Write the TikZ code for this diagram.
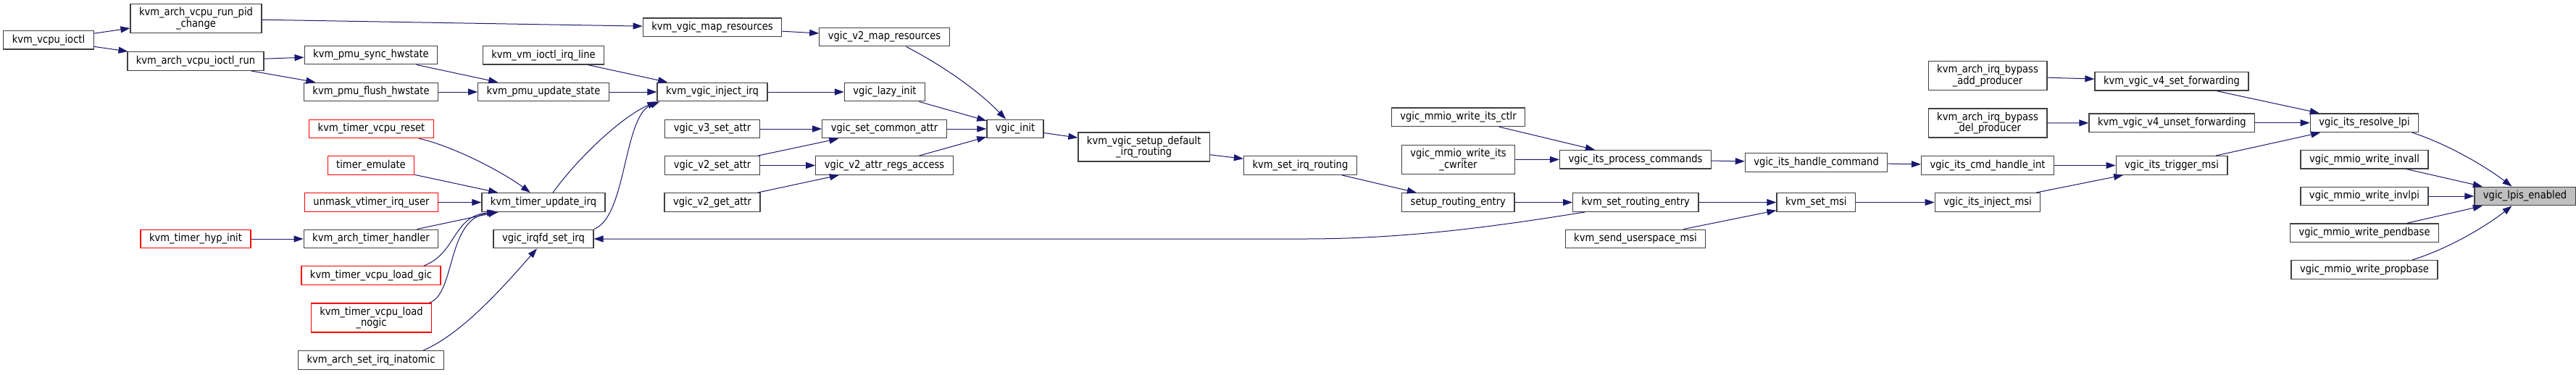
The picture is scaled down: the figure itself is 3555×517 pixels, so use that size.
\documentclass[tikz,border=0pt]{standalone}
\usepackage{fontspec}
\setmainfont{DejaVu Sans}[FakeStretch=0.88]
\usetikzlibrary{arrows.meta}
\definecolor{edgeblue}{RGB}{25,25,112}
\definecolor{boxgrey}{RGB}{64,64,64}
\definecolor{focusgrey}{RGB}{191,191,191}
\begin{document}
\begin{tikzpicture}[x=1pt,y=1pt,
  fnbox/.style={draw=boxgrey,fill=white,line width=1.3pt,inner xsep=12pt,inner ysep=5pt,
    minimum height=25.6pt,align=center,font=\fontsize{14.9}{15.3}\selectfont},
  redbox/.style={fnbox,draw=red},
  call/.style={edgeblue,line width=1pt,-{Triangle[length=13pt,width=9pt]}}]
\useasboundingbox[fill=white] (0,0) rectangle (3555,-517);

\foreach \nm/\x/\y/\txt in {ioctl/67/55.3/kvm\_vcpu\_ioctl,
  pidch/270.5/25.7/kvm\_arch\_vcpu\_run\_pid\\\_change,
  ioctlrun/270/84.5/kvm\_arch\_vcpu\_ioctl\_run,
  sync/512/76/kvm\_pmu\_sync\_hwstate,
  flush/512/127/kvm\_pmu\_flush\_hwstate,
  handler/512/330/kvm\_arch\_timer\_handler,
  inatomic/512/497.5/kvm\_arch\_set\_irq\_inatomic,
  irqline/750/76.3/kvm\_vm\_ioctl\_irq\_line,
  update/750/127/kvm\_pmu\_update\_state,
  timerirq/750/279.5/kvm\_timer\_update\_irq,
  irqfd/750/330/vgic\_irqfd\_set\_irq,
  mapres/983/37.8/kvm\_vgic\_map\_resources,
  inject/983/127/kvm\_vgic\_inject\_irq,
  v3set/983/178/vgic\_v3\_set\_attr,
  v2set/983/228.5/vgic\_v2\_set\_attr,
  v2get/983/279.5/vgic\_v2\_get\_attr,
  v2map/1220.5/51/vgic\_v2\_map\_resources,
  lazy/1221/127/vgic\_lazy\_init,
  common/1220.5/178/vgic\_set\_common\_attr,
  regs/1220.5/228.5/vgic\_v2\_attr\_regs\_access,
  init/1401/178/vgic\_init,
  defrt/1578.7/203/kvm\_vgic\_setup\_default\\\_irq\_routing,
  setirqrt/1794.4/228.5/kvm\_set\_irq\_routing,
  itsctlr/2012.5/161.7/vgic\_mmio\_write\_its\_ctlr,
  cwriter/2012.5/220.5/vgic\_mmio\_write\_its\\\_cwriter,
  setuprt/2012.3/279.5/setup\_routing\_entry,
  process/2257/220.3/vgic\_its\_process\_commands,
  rtentry/2257.3/279.5/kvm\_set\_routing\_entry,
  usermsi/2257/330/kvm\_send\_userspace\_msi,
  handlecmd/2506.6/224.5/vgic\_its\_handle\_command,
  setmsi/2506.3/279.5/kvm\_set\_msi,
  addprod/2743/104.7/kvm\_arch\_irq\_bypass\\\_add\_producer,
  delprod/2743/170/kvm\_arch\_irq\_bypass\\\_del\_producer,
  handleint/2743/228.5/vgic\_its\_cmd\_handle\_int,
  injmsi/2743/279.5/vgic\_its\_inject\_msi,
  setfwd/2997/112.3/kvm\_vgic\_v4\_set\_forwarding,
  unsetfwd/2997.4/169.7/kvm\_vgic\_v4\_unset\_forwarding,
  trigger/2997/228.5/vgic\_its\_trigger\_msi,
  resolve/3263/169.7/vgic\_its\_resolve\_lpi,
  invall/3263/220.3/vgic\_mmio\_write\_invall,
  invlpi/3263/271/vgic\_mmio\_write\_invlpi,
  pendbase/3263/321.7/vgic\_mmio\_write\_pendbase,
  propbase/3263/372.5/vgic\_mmio\_write\_propbase}
{
    \node[fnbox] (\nm) at (\x,-\y) {\txt};
}
\foreach \nm/\x/\y/\txt in {hypinit/270/330/kvm\_timer\_hyp\_init,
  reset/512.5/178/kvm\_timer\_vcpu\_reset,
  emulate/512/228.5/timer\_emulate,
  unmask/512.5/279.5/unmask\_vtimer\_irq\_user,
  loadgic/512/380.5/kvm\_timer\_vcpu\_load\_gic,
  loadnogic/512.5/439/kvm\_timer\_vcpu\_load\\\_nogic}
{
    \node[redbox] (\nm) at (\x,-\y) {\txt};
}
\node[fnbox,fill=focusgrey] (lpis) at (3484.5,-271) {vgic\_lpis\_enabled};

\foreach \a/\b in {ioctl/pidch, ioctl/ioctlrun, pidch/mapres, ioctlrun/sync, ioctlrun/flush,
  sync/update, flush/update, update/inject, irqline/inject, emulate/timerirq, unmask/timerirq,
  handler/timerirq, hypinit/handler, mapres/v2map, inject/lazy, v3set/common, v2set/common,
  v2set/regs, v2get/regs, lazy/init, common/init, regs/init, init/defrt, defrt/setirqrt,
  setirqrt/setuprt, setuprt/rtentry, rtentry/setmsi, usermsi/setmsi, itsctlr/process,
  cwriter/process, process/handlecmd, handlecmd/handleint, setmsi/injmsi, handleint/trigger,
  injmsi/trigger, addprod/setfwd, delprod/unsetfwd, setfwd/resolve, unsetfwd/resolve,
  trigger/resolve, invall/lpis, invlpi/lpis, pendbase/lpis}
{
    \draw[call] (\a)--(\b);
}

\draw[call] (reset) .. controls (620,-200) and (690,-235) .. (timerirq);
\draw[call] ([xshift=73pt]loadgic.north) .. controls (630,-350) and (625,-298) .. ([xshift=-65pt]timerirq.south);
\draw[call] ([xshift=80pt]loadnogic.north) .. controls (630,-405) and (615,-300) .. ([xshift=-62pt]timerirq.south);
\draw[call] ([xshift=13pt]timerirq.north) .. controls (800,-215) and (860,-160) .. (inject.south west);
\draw[call] (irqfd.north east) .. controls (865,-300) and (860,-160) .. ([xshift=4pt]inject.south west);
\draw[call] ([xshift=72pt]inatomic.north) .. controls (640,-460) and (700,-390) .. ([xshift=-9pt]irqfd.south);
\draw[call] ([xshift=30pt]v2map.south) .. controls (1300,-90) and (1350,-125) .. ([xshift=-13pt]init.north);
\draw[call] ([xshift=-70pt]rtentry.south) .. controls (2080,-310) and (1950,-330) .. (1800,-330)--(irqfd);
\draw[call] ([xshift=66pt]resolve.south) .. controls (3380,-200) and (3430,-230) .. ([xshift=-18pt]lpis.north);
\draw[call] ([xshift=66pt]propbase.north) .. controls (3380,-343) and (3430,-313) .. ([xshift=-18pt]lpis.south);

\end{tikzpicture}
\end{document}
